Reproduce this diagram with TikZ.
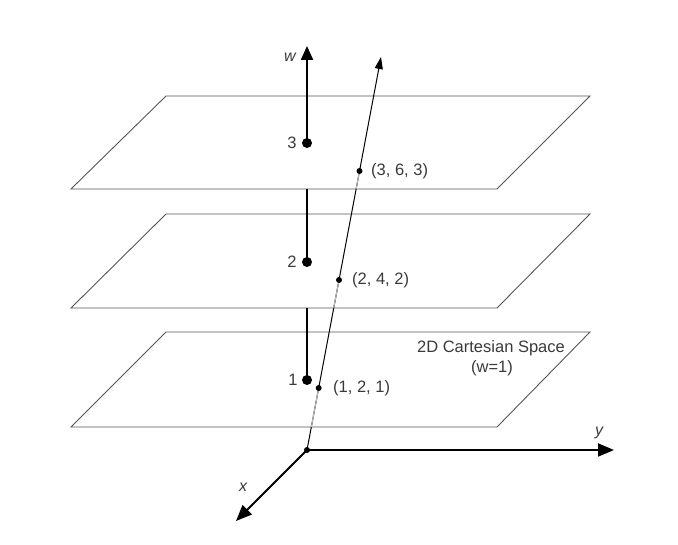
\documentclass[tikz,border=0pt]{standalone}
\usepackage{fontspec}
\setmainfont{Liberation Sans}
\usetikzlibrary{arrows.meta}
\definecolor{txt}{HTML}{3A3A3A}
\definecolor{planec}{HTML}{555555}
\definecolor{hid}{HTML}{BBBBBB}
\begin{document}
\begin{tikzpicture}[x=1pt,y=-1pt,
  plane/.style={draw=planec,line width=0.9pt,fill=white},
  axis/.style={draw=black,line width=1.8pt,-{Triangle[length=16pt,width=13pt]}},
  waxis/.style={draw=black,line width=2.2pt},
  ray/.style={draw=black,line width=1pt},
  hidden/.style={draw=hid,line width=1pt},
  bigdot/.style={circle,fill=black,inner sep=0pt,minimum size=10pt},
  smalldot/.style={circle,fill=black,inner sep=0pt,minimum size=6pt},
  lbl/.style={text=txt,font=\fontsize{16.5}{19}\selectfont,inner sep=0pt},
  axlbl/.style={text=txt,font=\fontsize{16}{18}\selectfont\itshape,inner sep=0pt}]
\useasboundingbox (0,0) rectangle (678,545);
\fill[white] (0,0) rectangle (678,545);
% key coordinates
\coordinate (O) at (307,450);
\coordinate (T) at (381,57);
\coordinate (E1) at (311.3,427);
\coordinate (E2) at (333.7,308);
\coordinate (E3) at (356.1,189);
\coordinate (P1) at (318.7,388);
\coordinate (P2) at (339,280);
\coordinate (P3) at (359.5,171);
\coordinate (W3) at (307,143);
\coordinate (W2) at (307,262);
\coordinate (W1) at (307,380);
\coordinate (B3) at (307,189);
\coordinate (B2) at (307,308);
\coordinate (Wt) at (307,46);
\coordinate (Yt) at (614,450);
\coordinate (Xt) at (236,521);
% planes
\draw[plane] (166,332) -- (590,332) -- (497,427) -- (71,427) -- cycle;
\draw[plane] (166,214) -- (590,214) -- (497,308) -- (71,308) -- cycle;
\draw[plane] (166,96) -- (590,96) -- (497,189) -- (71,189) -- cycle;
% w axis segments
\draw[waxis,-{Triangle[length=14pt,width=12pt]}] (W3) -- (Wt);
\draw[waxis] (W2) -- (B3);
\draw[waxis] (W1) -- (B2);
% ray through points
\draw[ray,-{Triangle[length=12pt,width=8pt]}] (O) -- (T);
\draw[hidden] (E1) -- (P1);
\draw[hidden] (E2) -- (P2);
\draw[hidden] (E3) -- (P3);
% axes
\draw[axis] (O) -- (Yt);
\draw[axis] (O) -- (Xt);
\node[smalldot] (o) at (O) {};
% dots
\node[bigdot] (w3) at (W3) {};
\node[bigdot] (w2) at (W2) {};
\node[bigdot] (w1) at (W1) {};
\node[smalldot] (p3) at (P3) {};
\node[smalldot] (p2) at (P2) {};
\node[smalldot] (p1) at (P1) {};
% labels
\node[lbl] (l3) at (292,143) {3};
\node[lbl] (l2) at (292,262) {2};
\node[lbl] (l1) at (293,380) {1};
\node[lbl,anchor=west] (t3) at (371,171) {(3, 6, 3)};
\node[lbl,anchor=west] (t2) at (352,280) {(2, 4, 2)};
\node[lbl,anchor=west] (t1) at (333,388) {(1, 2, 1)};
\node[lbl] (cs) at (491,348) {2D Cartesian Space};
\node[lbl] (w1lbl) at (492,368) {(w=1)};
\node[axlbl] (wl) at (290,57) {w};
\node[axlbl] (xl) at (243,487) {x};
\node[axlbl] (yl) at (599,433) {y};
\end{tikzpicture}
\end{document}
